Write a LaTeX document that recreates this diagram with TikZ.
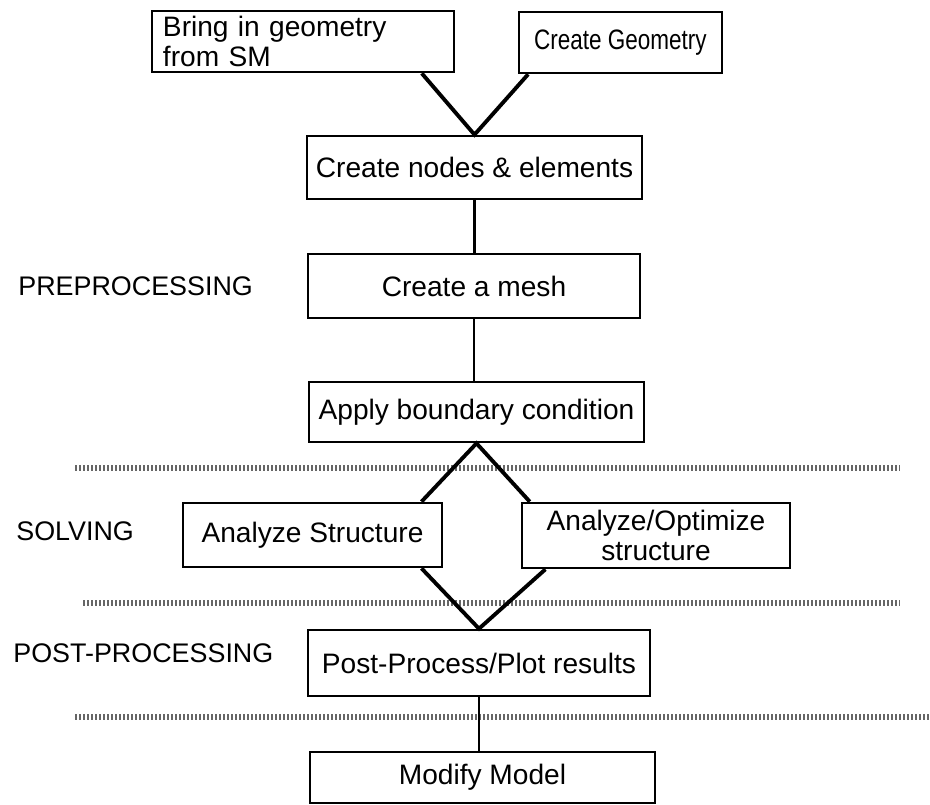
\documentclass[tikz,border=0pt]{standalone}
\usepackage{fontspec}
\setmainfont{Liberation Sans}
\newfontfamily\narrowsans[FakeStretch=0.8]{Liberation Sans}
\tikzset{
  stage/.style={draw, line width=1.5pt, inner sep=0pt, font=\fontsize{16}{17}\selectfont},
  phase/.style={anchor=west, inner sep=0pt, font=\fontsize{15.3}{18}\selectfont},
  link/.style={line width=1.3pt},
  fork/.style={line width=2.2pt},
  divider/.style={line width=1.2mm, black!60, dash pattern=on 0.4mm off 0.4mm}
}
\begin{document}
\begin{tikzpicture}[x=0.2mm, y=-0.2mm]
\useasboundingbox (0,0) rectangle (930,805);
% phase separators
\draw[divider] (75,468)--(900,468);
\draw[divider] (83,603)--(900,603);
\draw[divider] (75,717)--(930,717);
% phase names
\node[phase] (pre) at (18,286) {PREPROCESSING};
\node[phase] (solv) at (16,531) {SOLVING};
\node[phase] (postp) at (13,653) {POST-PROCESSING};
% stages
\node[stage, minimum width=60.4mm, minimum height=12.2mm, text width=56mm, align=left] (bring) at (303,41.5) {Bring in geometry\\from SM};
\node[stage, minimum width=40.6mm, minimum height=12.2mm, font=\narrowsans\fontsize{16}{17}\selectfont] (geom) at (620.5,42.5) {Create Geometry};
\node[stage, minimum width=67mm, minimum height=12.6mm] (nodes) at (474.5,167.5) {Create nodes \& elements};
\node[stage, minimum width=66.4mm, minimum height=12.8mm] (mesh) at (474,286) {Create a mesh};
\node[stage, minimum width=67mm, minimum height=12mm] (apply) at (476.5,412) {Apply boundary condition};
\node[stage, minimum width=51.8mm, minimum height=12.8mm] (anls) at (312.5,535) {Analyze Structure};
\node[stage, minimum width=53.6mm, minimum height=13mm, align=center] (opt) at (656,535.5) {Analyze/Optimize\\structure};
\node[stage, minimum width=68.4mm, minimum height=13.2mm] (post) at (479,663) {Post-Process/Plot results};
\node[stage, minimum width=69mm, minimum height=10.2mm] (modify) at (482.5,777.5) {Modify Model};
% connectors
\draw[fork] (bring.-15.5)--(nodes.north)--(geom.199);
\draw[link] (nodes.south)--(nodes.south |- mesh.north);
\draw[link] (mesh.south)--(mesh.south |- apply.north);
\draw[fork] (anls.17)--(apply.south)--(opt.165);
\draw[fork] (anls.-17)--(post.north)--(opt.197);
\draw[link] (post.south)--(post.south |- modify.north);
\end{tikzpicture}
\end{document}
